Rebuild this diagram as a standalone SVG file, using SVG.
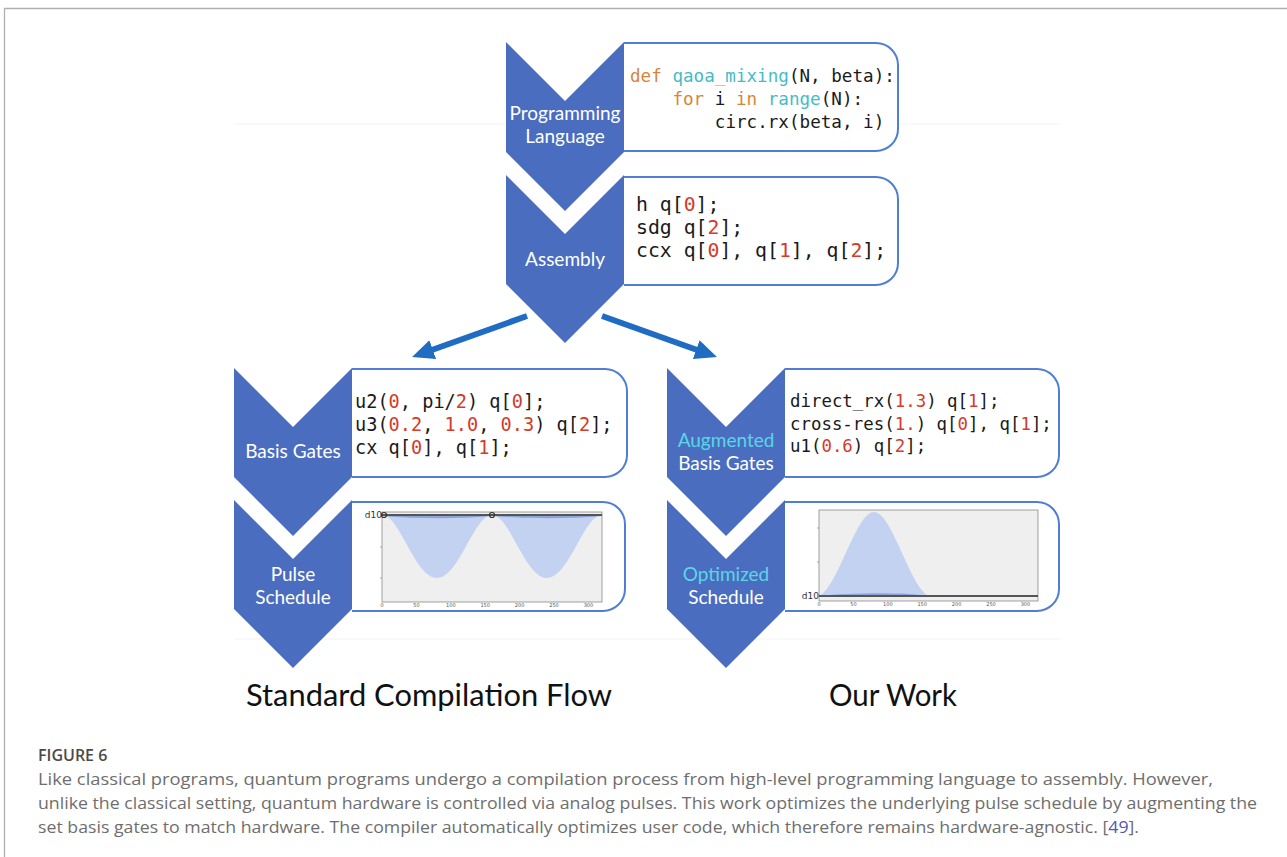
<svg xmlns="http://www.w3.org/2000/svg" width="1287" height="857" viewBox="0 0 1287 857">
<defs>
<style>
.chev{fill:#4a6dbf}
.box{fill:#fff;stroke:#4f7fd4;stroke-width:2}
.lbl{font-family:Lato,"Noto Sans",sans-serif;font-size:19px;fill:#fff;text-anchor:middle}
.cy{fill:#5ad6e6}
.code{font-family:"DejaVu Sans Mono","Liberation Mono",monospace;fill:#1a1a1a}
.n{fill:#d33b2c}
.kw{fill:#d8843c}
.fn{fill:#45bcc6}
.conn{stroke:#1f6cc2;stroke-width:6;fill:none}
.plotbg{fill:#efefef;stroke:#8a8a8a;stroke-width:0.8}
.gauss{fill:#c3d2f1}
.chan{stroke:#555;stroke-width:2}
.tick{font-family:"DejaVu Sans",sans-serif;font-size:5px;fill:#555;text-anchor:middle}
.dlab{font-family:"DejaVu Sans",sans-serif;font-size:9px;fill:#333;text-anchor:end}
.cap{font-family:"Open Sans","Noto Sans",sans-serif;font-size:16.5px;fill:#6e6e6e}
.big{font-family:Lato,"Noto Sans",sans-serif;font-size:31px;fill:#111;text-anchor:middle}
</style>
<marker id="ah" viewBox="0 0 22 20" refX="4" refY="10" markerWidth="22" markerHeight="20" markerUnits="userSpaceOnUse" orient="auto">
<path d="M0,0 L22,10 L0,20 z" fill="#1f6cc2"/>
</marker>
</defs>
<rect width="1287" height="857" fill="#fff"/>
<line x1="4" y1="8.5" x2="1287" y2="8.5" stroke="#b0b0b0" stroke-width="1.3"/>
<line x1="4.5" y1="8" x2="4.5" y2="857" stroke="#b0b0b0" stroke-width="1.3"/>
<line x1="235" y1="124" x2="1060" y2="124" stroke="#f3f3f3" stroke-width="1"/>
<line x1="235" y1="639" x2="1060" y2="639" stroke="#f3f3f3" stroke-width="1"/>

<g id="connectors">
<line class="conn" x1="527" y1="316" x2="429" y2="351" marker-end="url(#ah)"/>
<line class="conn" x1="602" y1="316" x2="700" y2="351" marker-end="url(#ah)"/>
</g>

<g id="programming">
<path class="box" d="M624,43 H876 A22,22 0 0 1 898,65 V129 A22,22 0 0 1 876,151 H624"/>
<polygon class="chev" points="506,42 565,101 624,42 624,152 565,211 506,152"/>
<text class="lbl" x="565" y="120">Programming</text>
<text class="lbl" x="565" y="143">Language</text>
<text class="code" font-size="17.6" x="630" y="82" xml:space="preserve"><tspan class="kw">def</tspan> <tspan class="fn">qaoa_mixing</tspan>(N, beta):</text>
<text class="code" font-size="17.6" x="672.4" y="105" xml:space="preserve"><tspan class="kw">for</tspan> i <tspan class="kw">in</tspan> <tspan class="fn">range</tspan>(N):</text>
<text class="code" font-size="17.6" x="714.8" y="128">circ.rx(beta, i)</text>
</g>

<g id="assembly">
<path class="box" d="M624,177 H876 A22,22 0 0 1 898,199 V263 A22,22 0 0 1 876,285 H624"/>
<polygon class="chev" points="506,175 565,234 624,175 624,284 565,343 506,284"/>
<text class="lbl" x="565" y="266">Assembly</text>
<text class="code" font-size="19.8" x="636" y="211" xml:space="preserve">h q[<tspan class="n">0</tspan>];</text>
<text class="code" font-size="19.8" x="636" y="234" xml:space="preserve">sdg q[<tspan class="n">2</tspan>];</text>
<text class="code" font-size="19.8" x="636" y="257" xml:space="preserve">ccx q[<tspan class="n">0</tspan>], q[<tspan class="n">1</tspan>], q[<tspan class="n">2</tspan>];</text>
</g>

<g id="basis-gates">
<path class="box" d="M352,369 H605 A22,22 0 0 1 627,391 V455 A22,22 0 0 1 605,477 H352"/>
<polygon class="chev" points="234,368 293,427 352,368 352,477 293,536 234,477"/>
<text class="lbl" x="293" y="458">Basis Gates</text>
<text class="code" font-size="18.6" x="355" y="408" xml:space="preserve">u2(<tspan class="n">0</tspan>, pi/<tspan class="n">2</tspan>) q[<tspan class="n">0</tspan>];</text>
<text class="code" font-size="18.6" x="355" y="431" xml:space="preserve">u3(<tspan class="n">0.2</tspan>, <tspan class="n">1.0</tspan>, <tspan class="n">0.3</tspan>) q[<tspan class="n">2</tspan>];</text>
<text class="code" font-size="18.6" x="355" y="454" xml:space="preserve">cx q[<tspan class="n">0</tspan>], q[<tspan class="n">1</tspan>];</text>
</g>

<g id="pulse-schedule">
<path class="box" d="M352,502 H603 A22,22 0 0 1 625,524 V589 A22,22 0 0 1 603,611 H352"/>
<polygon class="chev" points="234,500 293,559 352,500 352,609 293,668 234,609"/>
<text class="lbl" x="293" y="581">Pulse</text>
<text class="lbl" x="293" y="604">Schedule</text>
<rect class="plotbg" x="382" y="512" width="220" height="90"/>
<path class="gauss" d="M382,515 C400,515 415,578 437,578 C459,578 474,515 492,515 Z"/>
<path class="gauss" d="M492,515 C510,515 525,578 547,578 C569,578 584,515 602,515 Z"/>
<path d="M382,516 C420,519 460,519 492,516 C530,519 570,519 602,516 Z" fill="#8ea3d8"/>
<line class="chan" x1="382" y1="515" x2="602" y2="515"/>
<circle cx="384" cy="515" r="2.5" fill="none" stroke="#333" stroke-width="1.2"/>
<circle cx="492" cy="515" r="2.5" fill="none" stroke="#333" stroke-width="1.2"/>
<text class="dlab" x="382" y="518">d10</text>
<g stroke="#777" stroke-width="0.6">
<line x1="380" y1="547" x2="382" y2="547"/><line x1="380" y1="578" x2="382" y2="578"/>
</g>
<text class="tick" x="382" y="607">0</text><text class="tick" x="416.4" y="607">50</text><text class="tick" x="450.8" y="607">100</text><text class="tick" x="485.2" y="607">150</text><text class="tick" x="519.6" y="607">200</text><text class="tick" x="554" y="607">250</text><text class="tick" x="588.4" y="607">300</text>
</g>

<g id="augmented-basis-gates">
<path class="box" d="M785,369 H1037 A22,22 0 0 1 1059,391 V455 A22,22 0 0 1 1037,477 H785"/>
<polygon class="chev" points="667,368 726,427 785,368 785,477 726,536 667,477"/>
<text class="lbl cy" x="726" y="447">Augmented</text>
<text class="lbl" x="726" y="470">Basis Gates</text>
<text class="code" font-size="17.4" x="790" y="407" xml:space="preserve">direct_rx(<tspan class="n">1.3</tspan>) q[<tspan class="n">1</tspan>];</text>
<text class="code" font-size="17.4" x="790" y="430" xml:space="preserve">cross-res(<tspan class="n">1.</tspan>) q[<tspan class="n">0</tspan>], q[<tspan class="n">1</tspan>];</text>
<text class="code" font-size="17.4" x="790" y="452" xml:space="preserve">u1(<tspan class="n">0.6</tspan>) q[<tspan class="n">2</tspan>];</text>
</g>

<g id="optimized-schedule">
<path class="box" d="M785,502 H1037 A22,22 0 0 1 1059,524 V589 A22,22 0 0 1 1037,611 H785"/>
<polygon class="chev" points="667,500 726,559 785,500 785,609 726,668 667,609"/>
<text class="lbl cy" x="726" y="581">Optimized</text>
<text class="lbl" x="726" y="604">Schedule</text>
<rect class="plotbg" x="819" y="510" width="219" height="91"/>
<path class="gauss" d="M819,596 C838,588 856,512 874,512 C892,512 910,588 929,596 Z"/>
<path d="M819,596 C850,593 900,592 929,596 Z" fill="#8ea3d8"/>
<line class="chan" x1="819" y1="596" x2="1038" y2="596"/>
<text class="dlab" x="819" y="599">d10</text>
<g stroke="#777" stroke-width="0.6">
<line x1="817" y1="528" x2="819" y2="528"/><line x1="817" y1="562" x2="819" y2="562"/>
</g>
<text class="tick" x="819" y="606">0</text><text class="tick" x="853.4" y="606">50</text><text class="tick" x="887.8" y="606">100</text><text class="tick" x="922.2" y="606">150</text><text class="tick" x="956.6" y="606">200</text><text class="tick" x="991" y="606">250</text><text class="tick" x="1025.4" y="606">300</text>
</g>

<g id="titles">
<text class="big" x="429" y="706" textLength="366" lengthAdjust="spacingAndGlyphs">Standard Compilation Flow</text>
<text class="big" x="893" y="706" textLength="128" lengthAdjust="spacingAndGlyphs">Our Work</text>
</g>

<g id="caption">
<text x="38" y="761" font-family="'Open Sans','Noto Sans',sans-serif" font-size="16" font-weight="600" fill="#4a4a4a">FIGURE 6</text>
<text class="cap" x="38" y="785" textLength="1175" lengthAdjust="spacingAndGlyphs">Like classical programs, quantum programs undergo a compilation process from high-level programming language to assembly. However,</text>
<text class="cap" x="38" y="809" textLength="1219" lengthAdjust="spacingAndGlyphs">unlike the classical setting, quantum hardware is controlled via analog pulses. This work optimizes the underlying pulse schedule by augmenting the</text>
<text class="cap" x="38" y="833" textLength="1101" lengthAdjust="spacingAndGlyphs">set basis gates to match hardware. The compiler automatically optimizes user code, which therefore remains hardware-agnostic. [<tspan fill="#5757b5">49</tspan>].</text>
</g>
</svg>
